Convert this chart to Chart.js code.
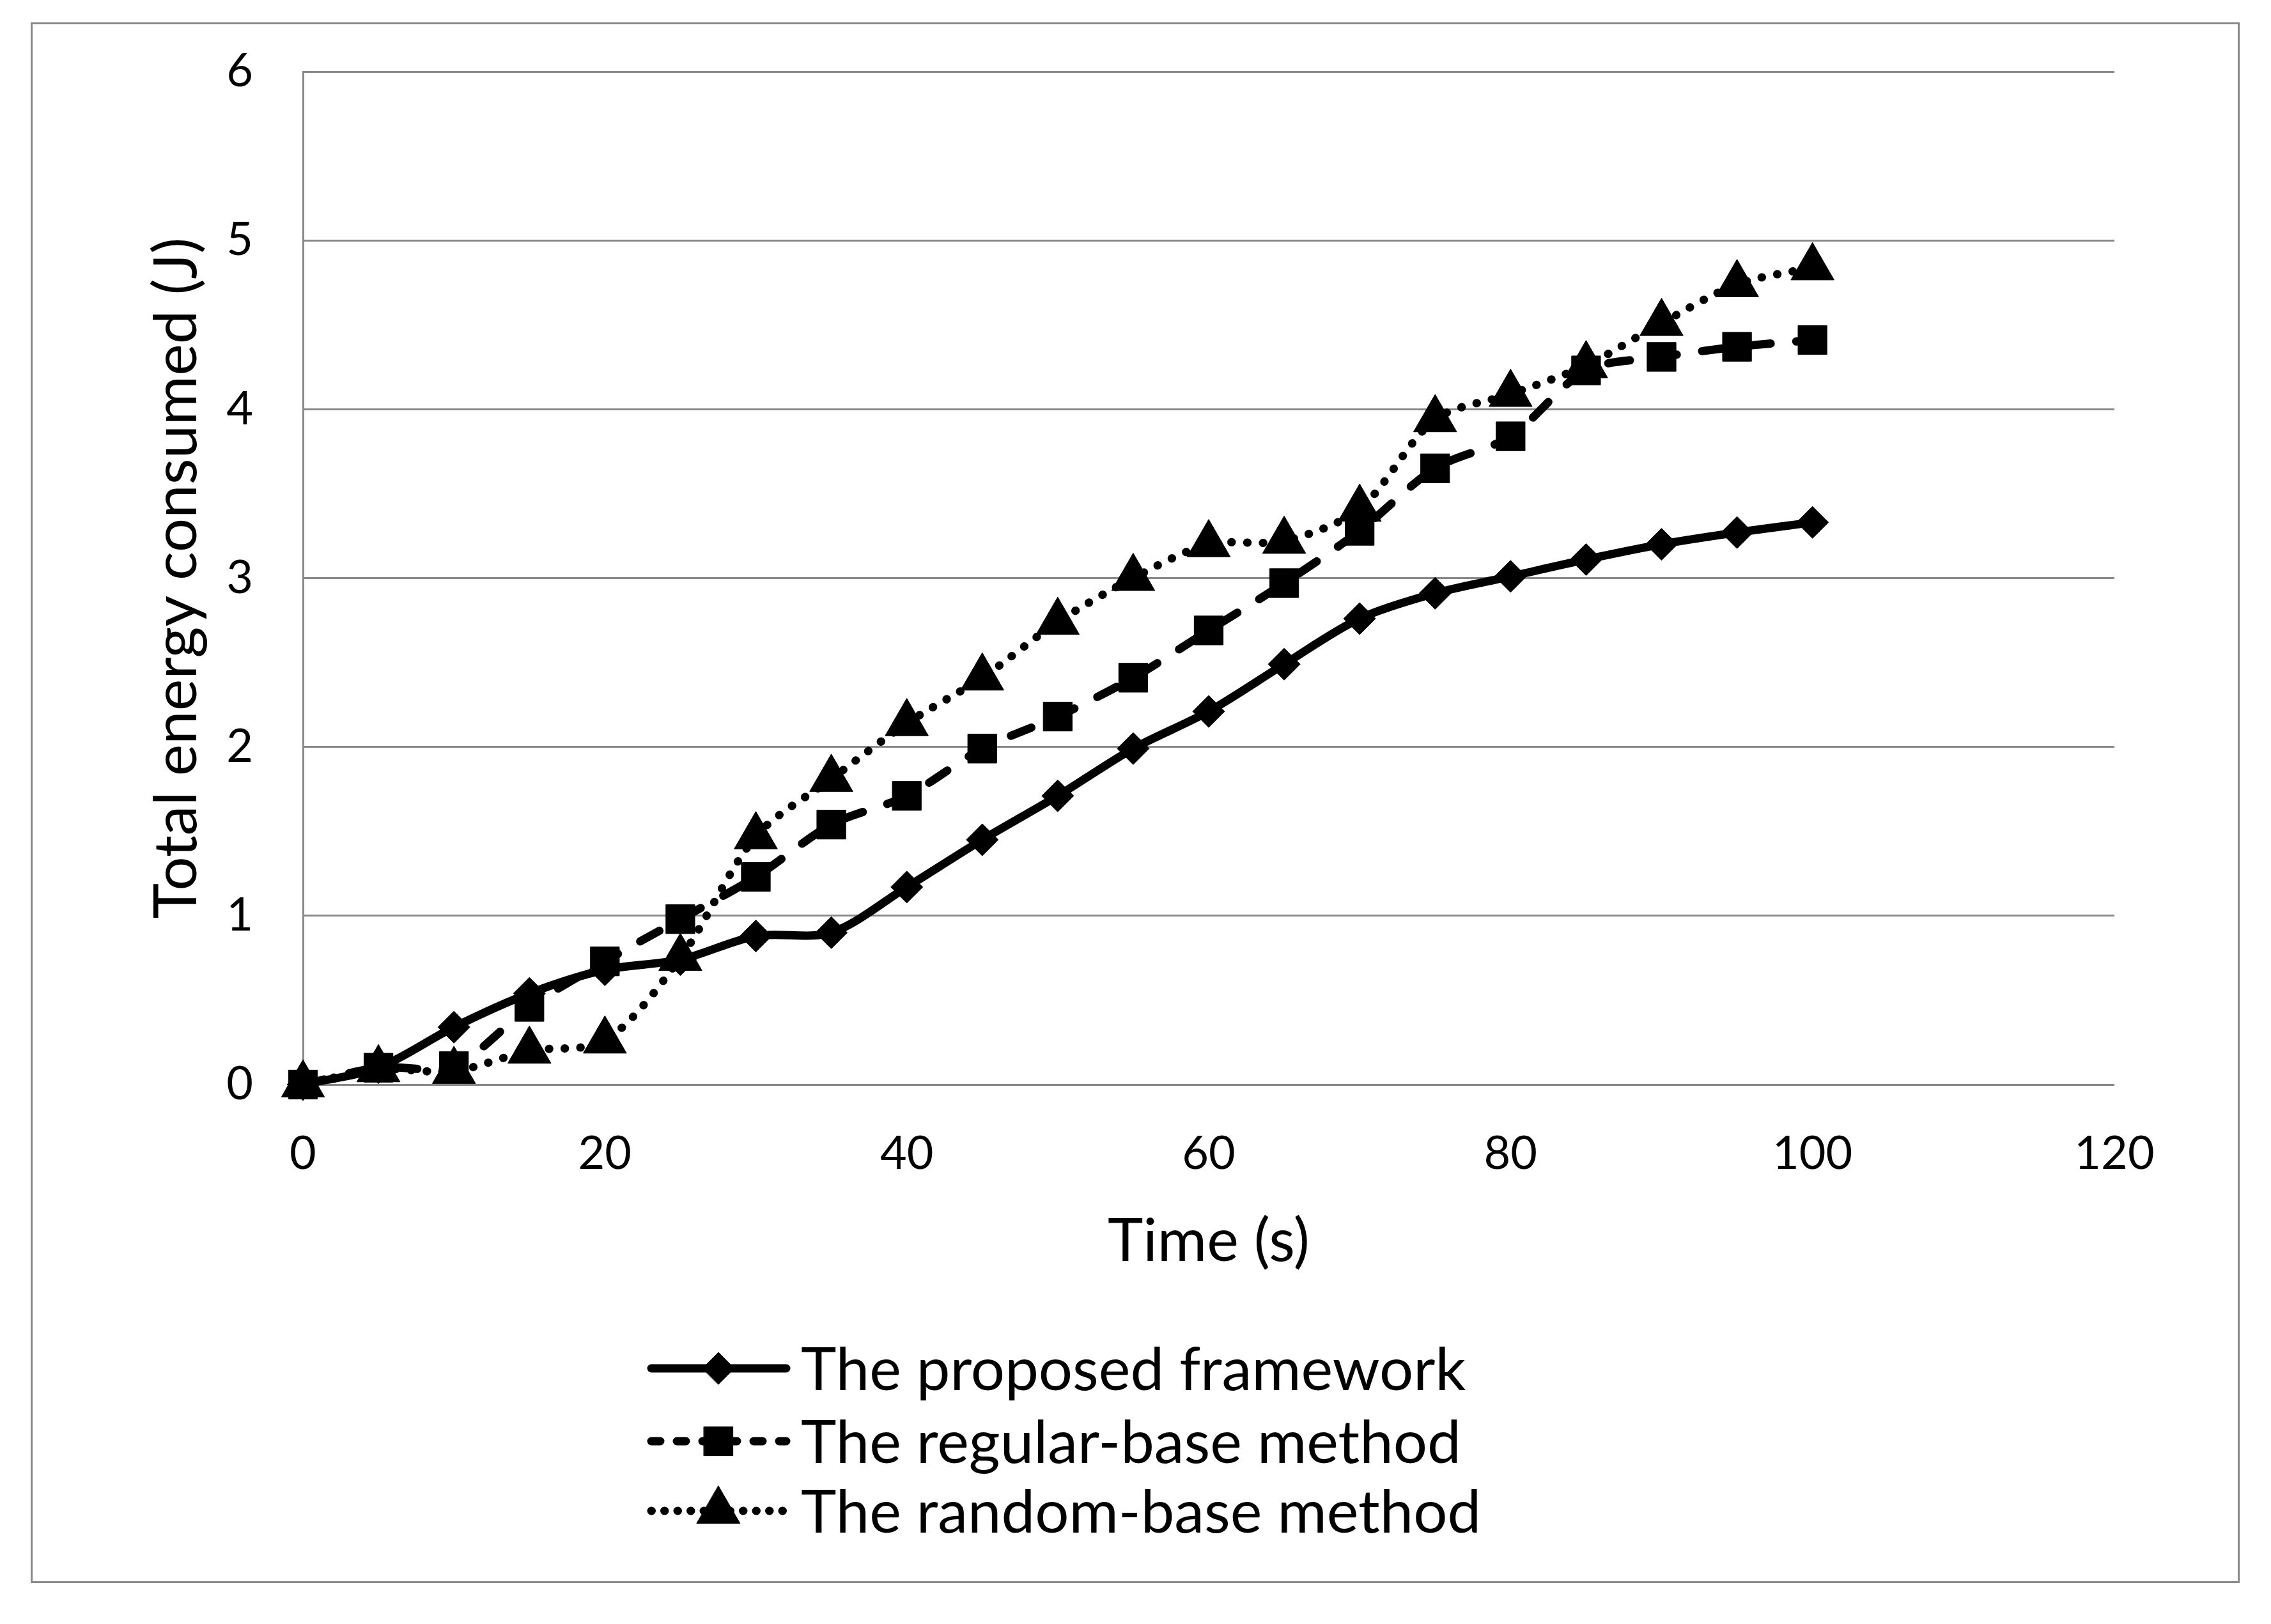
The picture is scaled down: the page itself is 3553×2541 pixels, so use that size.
<!DOCTYPE html>
<html>
<head>
<meta charset="utf-8">
<title>Total energy consumed</title>
<script src="https://cdn.jsdelivr.net/npm/chart.js@4.4.1/dist/chart.umd.min.js"></script>
<style>
  html, body { margin: 0; padding: 0; background: #fff; overflow: hidden; }
  canvas { position: absolute; left: 0; top: 0; }
  #frame { position: absolute; left: 48px; top: 35px; width: 3450px; height: 2436px;
           border: 3px solid #898989; pointer-events: none; }
</style>
</head>
<body>
<canvas id="energyChart" width="3553" height="2541"></canvas>
<div id="frame"></div>
<script>
// time in seconds
const times = [0, 5, 10, 15, 20, 25, 30, 35, 40, 45, 50, 55, 60, 65, 70, 75, 80, 85, 90, 95, 100];

// energy (J)
const proposed = [0, 0.10, 0.34, 0.54, 0.68, 0.74, 0.88, 0.90, 1.17, 1.45, 1.71, 1.99, 2.21, 2.49, 2.76, 2.91, 3.01, 3.11, 3.20, 3.27, 3.33];
const regular  = [0, 0.10, 0.11, 0.46, 0.73, 0.98, 1.23, 1.54, 1.71, 1.99, 2.18, 2.41, 2.69, 2.97, 3.28, 3.65, 3.84, 4.23, 4.31, 4.37, 4.41];
const random   = [0, 0.09, 0.08, 0.20, 0.26, 0.75, 1.47, 1.81, 2.14, 2.41, 2.74, 3.00, 3.20, 3.22, 3.41, 3.94, 4.09, 4.26, 4.51, 4.74, 4.84];

const seriesNames = ['The proposed framework', 'The regular-base method', 'The random-base method'];
const xTicks = [0, 20, 40, 60, 80, 100, 120];
const yTicks = [0, 1, 2, 3, 4, 5, 6];

const toPoints = vals => times.map((t, i) => ({ x: t, y: vals[i] }));

// legend drawn like the spreadsheet one: line sample + marker + label
const legendRows = [2141, 2255, 2364];
const excelLegend = {
  id: 'excelLegend',
  afterDraw(chart) {
    const ctx = chart.ctx;
    chart.data.datasets.forEach((ds, i) => {
      const y = legendRows[i];
      ctx.save();
      ctx.strokeStyle = '#000';
      ctx.lineWidth = ds.borderWidth;
      ctx.lineCap = 'round';
      ctx.setLineDash(ds.legendDash);
      ctx.beginPath();
      ctx.moveTo(1019, y);
      ctx.lineTo(1230, y);
      ctx.stroke();
      ctx.setLineDash([]);
      ctx.fillStyle = '#000';
      ctx.lineWidth = 1;
      Chart.helpers.drawPoint(ctx, { pointStyle: ds.pointStyle, radius: ds.pointRadius, borderWidth: 1, rotation: 0 }, 1124, y);
      ctx.font = '94px Lato';
      ctx.textBaseline = 'alphabetic';
      ctx.textAlign = 'left';
      ctx.fillText(ds.label, 1253, y + 34);
      ctx.restore();
    });
  }
};

function build() {
  new Chart(document.getElementById('energyChart'), {
    type: 'line',
    data: {
      datasets: [
        {
          label: seriesNames[0],
          data: toPoints(proposed),
          borderColor: '#000',
          backgroundColor: '#000',
          borderWidth: 13,
          borderCapStyle: 'round',
          tension: 0.3,
          pointStyle: 'rectRot',
          pointRadius: 25,
          pointBorderWidth: 1,
          legendDash: [],
          clip: false
        },
        {
          label: seriesNames[1],
          data: toPoints(regular),
          borderColor: '#000',
          backgroundColor: '#000',
          borderWidth: 13,
          borderDash: [34, 40],
          borderCapStyle: 'round',
          tension: 0.3,
          pointStyle: 'rect',
          pointRadius: 32,
          pointBorderWidth: 1,
          legendDash: [14, 26],
          clip: false
        },
        {
          label: seriesNames[2],
          data: toPoints(random),
          borderColor: '#000',
          backgroundColor: '#000',
          borderWidth: 13,
          borderDash: [0.5, 24],
          borderCapStyle: 'round',
          tension: 0.3,
          pointStyle: 'triangle',
          pointRadius: 39,
          pointBorderWidth: 1,
          legendDash: [0.5, 20],
          clip: false
        }
      ]
    },
    options: {
      responsive: false,
      animation: false,
      devicePixelRatio: 1,
      layout: { padding: { left: 0, top: 112, right: 245, bottom: 0 } },
      plugins: {
        legend: { display: false },
        tooltip: { enabled: false }
      },
      scales: {
        x: {
          type: 'linear',
          min: 0,
          max: 120,
          afterBuildTicks: s => { s.ticks = xTicks.map(v => ({ value: v })); },
          afterFit: s => { s.height = 844; },
          grid: { display: false, drawTicks: false },
          border: { display: false },
          ticks: { color: '#000', font: { family: 'Lato', size: 72 }, padding: 66, maxRotation: 0 },
          title: {
            display: true,
            text: 'Time (s)',
            color: '#000',
            font: { family: 'Lato', size: 94 },
            padding: { top: 0, bottom: 542 }
          }
        },
        y: {
          min: 0,
          max: 6,
          afterBuildTicks: s => { s.ticks = yTicks.map(v => ({ value: v })); },
          afterFit: s => { s.width = 474; s.paddingTop = 0; s.paddingBottom = 0; },
          grid: { color: '#898989', lineWidth: 3, drawTicks: false },
          border: { display: true, color: '#898989', width: 3 },
          ticks: { color: '#000', font: { family: 'Lato', size: 72 }, padding: 78 },
          title: {
            display: true,
            text: 'Total energy consumed (J)',
            color: '#000',
            font: { family: 'Lato', size: 94 },
            padding: { top: 220, bottom: 0 }
          }
        }
      }
    },
    plugins: [excelLegend]
  });
}

document.fonts.load('94px Lato').then(build, build);
</script>
</body>
</html>
